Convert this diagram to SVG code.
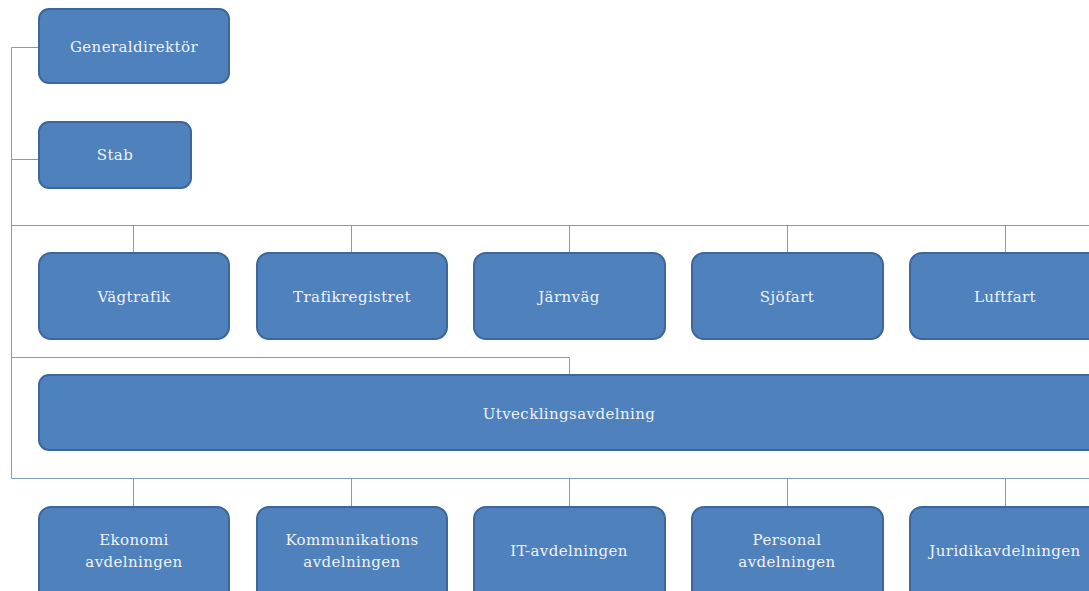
<svg xmlns="http://www.w3.org/2000/svg" width="1089" height="591" viewBox="0 0 1089 591">
<style>
.box{fill:#4F81BD;stroke:#3B679D;stroke-width:2}
.t{font-family:"DejaVu Serif","Liberation Serif",serif;font-size:15px;letter-spacing:0.4px;fill:#EEF2F8;text-anchor:middle;dominant-baseline:central}
.c{fill:none;stroke:#7A9CC6;stroke-width:1}
</style>
<rect width="1089" height="591" fill="#FFFFFF"/>
<g id="connectors">
<path class="c" d="M11.5 47.5H39M11.5 47.5V478.5M11.5 159.5H39"/>
<path class="c" d="M11.5 225.5H1089M133.5 225.5V253M351.5 225.5V253M569.5 225.5V253M787.5 225.5V253M1005.5 225.5V253"/>
<path class="c" d="M11.5 357.5H569.5V375"/>
<path class="c" d="M11.5 478.5H1089M133.5 478.5V507M351.5 478.5V507M569.5 478.5V507M787.5 478.5V507M1005.5 478.5V507"/>
</g>
<g id="n-generaldirektor"><rect class="box" x="39" y="9" width="190" height="74" rx="10"/><text class="t" x="134" y="47">Generaldirektör</text></g>
<g id="n-stab"><rect class="box" x="39" y="122" width="152" height="66" rx="10"/><text class="t" x="115" y="155">Stab</text></g>
<g id="n-vagtrafik"><rect class="box" x="39" y="253" width="190" height="86" rx="12"/><text class="t" x="134" y="297">Vägtrafik</text></g>
<g id="n-trafikregistret"><rect class="box" x="257" y="253" width="190" height="86" rx="12"/><text class="t" x="352" y="297">Trafikregistret</text></g>
<g id="n-jarnvag"><rect class="box" x="474" y="253" width="191" height="86" rx="12"/><text class="t" x="569" y="297">Järnväg</text></g>
<g id="n-sjofart"><rect class="box" x="692" y="253" width="191" height="86" rx="12"/><text class="t" x="787" y="297">Sjöfart</text></g>
<g id="n-luftfart"><rect class="box" x="910" y="253" width="200" height="86" rx="12"/><text class="t" x="1005" y="297">Luftfart</text></g>
<g id="n-utveckling"><rect class="box" x="39" y="375" width="1080" height="75" rx="10"/><text class="t" x="569" y="414">Utvecklingsavdelning</text></g>
<g id="n-ekonomi"><rect class="box" x="39" y="507" width="190" height="100" rx="12"/><text class="t" x="134" y="540">Ekonomi</text><text class="t" x="134" y="562">avdelningen</text></g>
<g id="n-kommunikation"><rect class="box" x="257" y="507" width="190" height="100" rx="12"/><text class="t" x="352" y="540">Kommunikations</text><text class="t" x="352" y="562">avdelningen</text></g>
<g id="n-it"><rect class="box" x="474" y="507" width="191" height="100" rx="12"/><text class="t" x="569" y="551">IT-avdelningen</text></g>
<g id="n-personal"><rect class="box" x="692" y="507" width="191" height="100" rx="12"/><text class="t" x="787" y="540">Personal</text><text class="t" x="787" y="562">avdelningen</text></g>
<g id="n-juridik"><rect class="box" x="910" y="507" width="200" height="100" rx="12"/><text class="t" x="1005" y="551">Juridikavdelningen</text></g>
</svg>
